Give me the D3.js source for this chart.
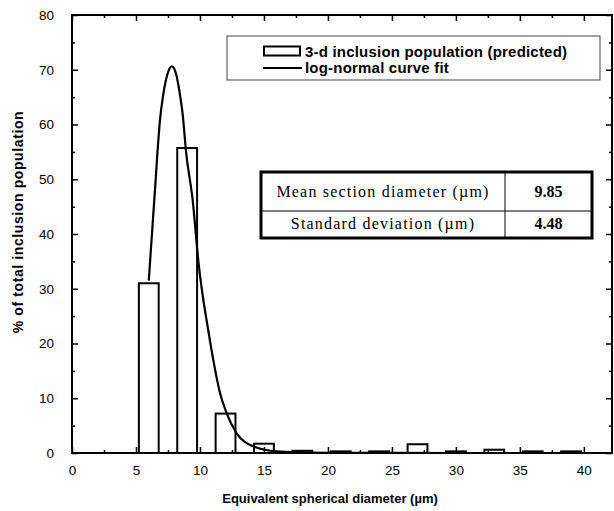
<!DOCTYPE html>
<html><head><meta charset="utf-8">
<script src="https://cdn.jsdelivr.net/npm/d3@7"></script>
<style>body{margin:0;background:#fff}svg{display:block}</style>
</head><body>
<script>
// ---- data ----
const binCenters = [6, 9, 12, 15, 18, 21, 24, 27, 30, 33, 36, 39];
const binValues  = [31, 55.7, 7.2, 1.7, 0.4, 0.3, 0.3, 1.6, 0.3, 0.6, 0.3, 0.3];
const binWidth = 1.55;
const curveX = [6.0, 6.43, 6.9, 7.1, 7.5, 7.8, 8.1, 8.4, 8.67, 8.9, 9.43, 9.9, 10.2, 10.6, 11.04, 11.56, 12.08, 12.87, 14.2, 16, 18, 20, 25, 30, 35, 40];
const curveY = [31.5, 46.2, 61.4, 65, 69.5, 70.6, 69.5, 66, 61.4, 55.3, 46.2, 34.5, 29, 23.1, 17, 11, 7.3, 3.6, 1.2, 0.3, 0.12, 0.05, 0.01, 0, 0, 0];
const xMajor = [0, 5, 10, 15, 20, 25, 30, 35, 40];
const xMinor = [2.5, 7.5, 12.5, 17.5, 22.5, 27.5, 32.5, 37.5];
const yMajor = [0, 10, 20, 30, 40, 50, 60, 70, 80];
const yMinor = [5, 15, 25, 35, 45, 55, 65, 75];
const legendLabels = ["3-d inclusion population (predicted)", "log-normal curve fit"];
const tableRows = [["Mean section diameter (\u00b5m)", "9.85"], ["Standard deviation (\u00b5m)", "4.48"]];
const xTitle = "Equivalent spherical diameter (\u00b5m)";
const yTitle = "% of total inclusion population";

// ---- layout ----
const W = 614, H = 511;
const L = 72, R = 612, T = 15, B = 453;
const svg = d3.select("body").append("svg").attr("width", W).attr("height", H);
const x = d3.scaleLinear().domain([0, 42.2]).range([L, R]);
const y = d3.scaleLinear().domain([0, 80]).range([B, T]);
const sans = "Arial, 'Liberation Sans', sans-serif";

// bars
svg.append("g").selectAll("rect").data(binCenters).join("rect")
  .attr("x", d => x(d - binWidth / 2))
  .attr("width", d => x(d + binWidth / 2) - x(d - binWidth / 2))
  .attr("y", (d, i) => y(binValues[i]))
  .attr("height", (d, i) => y(0) - y(binValues[i]))
  .attr("fill", "#fff").attr("stroke", "#000").attr("stroke-width", 2);

// curve
const pts = curveX.map((d, i) => [d, curveY[i]]);
svg.append("path").datum(pts)
  .attr("d", d3.line().x(d => x(d[0])).y(d => y(d[1])).curve(d3.curveMonotoneX))
  .attr("fill", "none").attr("stroke", "#000").attr("stroke-width", 2.2);

// axes
function styleAxis(g) {
  g.select(".domain").remove();
  g.selectAll("line").attr("stroke", "#000").attr("stroke-width", 1.5);
  g.selectAll("text").attr("font-family", sans).attr("font-size", "13.5px").attr("fill", "#000");
}
svg.append("g").attr("transform", `translate(0,${B})`)
  .call(d3.axisBottom(x).tickValues(xMajor).tickFormat(d3.format("d")).tickSize(-6).tickPadding(12)).call(styleAxis);
svg.append("g").attr("transform", `translate(0,${B})`)
  .call(d3.axisBottom(x).tickValues(xMinor).tickFormat("").tickSize(-3)).call(styleAxis);
svg.append("g").attr("transform", `translate(0,${T})`)
  .call(d3.axisTop(x).tickValues(xMajor).tickFormat("").tickSize(-6)).call(styleAxis);
svg.append("g").attr("transform", `translate(0,${T})`)
  .call(d3.axisTop(x).tickValues(xMinor).tickFormat("").tickSize(-3)).call(styleAxis);
svg.append("g").attr("transform", `translate(${L},0)`)
  .call(d3.axisLeft(y).tickValues(yMajor).tickFormat(d3.format("d")).tickSize(-6).tickPadding(18)).call(styleAxis);
svg.append("g").attr("transform", `translate(${L},0)`)
  .call(d3.axisLeft(y).tickValues(yMinor).tickFormat("").tickSize(-3)).call(styleAxis);
svg.append("g").attr("transform", `translate(${R},0)`)
  .call(d3.axisRight(y).tickValues(yMajor).tickFormat("").tickSize(-6)).call(styleAxis);
svg.append("g").attr("transform", `translate(${R},0)`)
  .call(d3.axisRight(y).tickValues(yMinor).tickFormat("").tickSize(-3)).call(styleAxis);

// frame
svg.append("rect").attr("x", L).attr("y", T).attr("width", R - L).attr("height", B - T)
  .attr("fill", "none").attr("stroke", "#000").attr("stroke-width", 2);

// titles
svg.append("text").attr("x", 330).attr("y", 503).attr("text-anchor", "middle")
  .attr("font-family", sans).attr("font-weight", "bold").attr("font-size", "13px").text(xTitle);
svg.append("text").attr("transform", "translate(23,222) rotate(-90)").attr("text-anchor", "middle")
  .attr("font-family", sans).attr("font-weight", "bold").attr("font-size", "14px")
  .attr("letter-spacing", "0.6px").text(yTitle);

// legend
const lg = svg.append("g");
lg.append("rect").attr("x", 227).attr("y", 36).attr("width", 373).attr("height", 44)
  .attr("fill", "#fff").attr("stroke", "#444").attr("stroke-width", 1);
lg.append("rect").attr("x", 264).attr("y", 46.5).attr("width", 36).attr("height", 9)
  .attr("fill", "#fff").attr("stroke", "#000").attr("stroke-width", 2);
lg.append("line").attr("x1", 263).attr("x2", 302).attr("y1", 68).attr("y2", 68)
  .attr("stroke", "#000").attr("stroke-width", 2.2);
lg.selectAll("text").data(legendLabels).join("text")
  .attr("x", 305).attr("y", (d, i) => 56.5 + i * 16)
  .attr("font-family", sans).attr("font-weight", "bold").attr("font-size", "15px")
  .attr("letter-spacing", "0.2px").text(d => d);

// table
const tb = svg.append("g");
const tL = 261, tR = 592, tT = 172, tB = 238, tDiv = 505, tMid = 211;
tb.append("rect").attr("x", tL).attr("y", tT).attr("width", tR - tL).attr("height", tB - tT)
  .attr("fill", "#fff").attr("stroke", "#000").attr("stroke-width", 3);
tb.append("line").attr("x1", tL).attr("x2", tR).attr("y1", tMid).attr("y2", tMid).attr("stroke", "#000").attr("stroke-width", 1);
tb.append("line").attr("x1", tDiv).attr("x2", tDiv).attr("y1", tT).attr("y2", tB).attr("stroke", "#000").attr("stroke-width", 1);
const serif = "'Liberation Serif', 'DejaVu Serif', serif";
tableRows.forEach((r, i) => {
  const by = i === 0 ? 197 : 229;
  tb.append("text").attr("x", (tL + tDiv) / 2).attr("y", by).attr("text-anchor", "middle")
    .attr("font-family", serif).attr("font-size", "16px").attr("letter-spacing", "1.2px").text(r[0]);
  tb.append("text").attr("x", (tDiv + tR) / 2).attr("y", by).attr("text-anchor", "middle")
    .attr("font-family", serif).attr("font-weight", "bold").attr("font-size", "16px").text(r[1]);
});
</script>
</body></html>
